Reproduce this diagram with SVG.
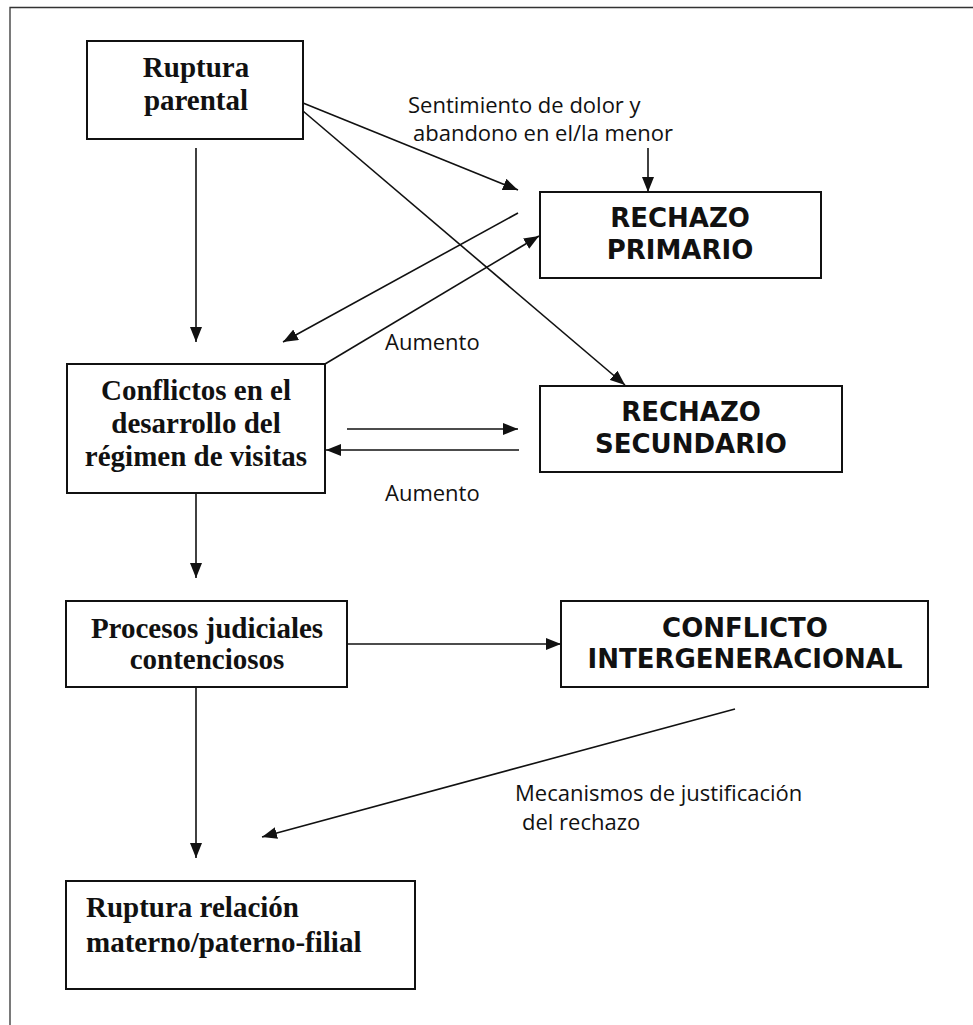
<svg xmlns="http://www.w3.org/2000/svg" width="973" height="1025" viewBox="0 0 973 1025">
<style>
.box{fill:#fff;stroke:#111;stroke-width:2}
.serif{font-family:"Liberation Serif","Times New Roman",serif;font-weight:bold;font-size:29px;fill:#111}
.caps{font-family:"DejaVu Sans",Verdana,sans-serif;font-weight:bold;font-size:26px;fill:#111}
.lbl{font-family:"Open Sans","DejaVu Sans",sans-serif;font-size:22px;fill:#111}
.conn line{stroke:#111;stroke-width:1.6;fill:none}
.arr{marker-end:url(#ah)}
</style>
<defs>
<marker id="ah" markerUnits="userSpaceOnUse" markerWidth="16" markerHeight="12" refX="15" refY="6" orient="auto">
<path d="M0,0 L15,6 L0,12 z" fill="#111"/>
</marker>
</defs>
<rect width="973" height="1025" fill="#fff"/>
<g id="frame" stroke="#333" stroke-width="1.3" fill="none">
<path d="M10,1025 L10,7.5 L973,7.5"/>
</g>
<g id="n-ruptura-parental">
<rect class="box" x="87" y="41" width="216" height="98"/>
<text class="serif" x="196" y="77" text-anchor="middle">Ruptura</text>
<text class="serif" x="196" y="110" text-anchor="middle">parental</text>
</g>
<g id="n-rechazo-primario">
<rect class="box" x="540" y="192" width="281" height="86"/>
<text class="caps" x="680" y="227" text-anchor="middle">RECHAZO</text>
<text class="caps" x="680" y="259" text-anchor="middle">PRIMARIO</text>
</g>
<g id="n-conflictos">
<rect class="box" x="67" y="364" width="258" height="129"/>
<text class="serif" x="196" y="400" text-anchor="middle">Conflictos en el</text>
<text class="serif" x="196" y="433" text-anchor="middle">desarrollo del</text>
<text class="serif" x="196" y="466" text-anchor="middle">régimen de visitas</text>
</g>
<g id="n-rechazo-secundario">
<rect class="box" x="540" y="386" width="302" height="86"/>
<text class="caps" x="691" y="421" text-anchor="middle">RECHAZO</text>
<text class="caps" x="691" y="453" text-anchor="middle">SECUNDARIO</text>
</g>
<g id="n-procesos">
<rect class="box" x="66" y="601" width="281" height="86"/>
<text class="serif" x="207" y="638" text-anchor="middle">Procesos judiciales</text>
<text class="serif" x="207" y="669" text-anchor="middle">contenciosos</text>
</g>
<g id="n-conflicto-intergeneracional">
<rect class="box" x="561" y="601" width="367" height="86"/>
<text class="caps" x="745" y="637" text-anchor="middle">CONFLICTO</text>
<text class="caps" x="745" y="668" text-anchor="middle">INTERGENERACIONAL</text>
</g>
<g id="n-ruptura-relacion">
<rect class="box" x="66" y="881" width="349" height="108"/>
<text class="serif" x="86" y="917">Ruptura relación</text>
<text class="serif" x="86" y="952">materno/paterno-filial</text>
</g>
<g id="labels">
<text class="lbl" x="408" y="113">Sentimiento de dolor y</text>
<text class="lbl" x="413" y="141">abandono en el/la menor</text>
<text class="lbl" x="385" y="350">Aumento</text>
<text class="lbl" x="385" y="501">Aumento</text>
<text class="lbl" x="515" y="801">Mecanismos de justificación</text>
<text class="lbl" x="522" y="830">del rechazo</text>
</g>
<g id="connectors" class="conn">
<line class="arr" x1="196" y1="148" x2="196" y2="342"/>
<line class="arr" x1="303" y1="103" x2="518" y2="190"/>
<line class="arr" x1="303" y1="111" x2="625" y2="385"/>
<line class="arr" x1="648" y1="148" x2="648" y2="192"/>
<line class="arr" x1="518" y1="213" x2="283" y2="342"/>
<line class="arr" x1="325" y1="364" x2="539" y2="236"/>
<line class="arr" x1="347" y1="429" x2="518" y2="429"/>
<line class="arr" x1="519" y1="450" x2="326" y2="450"/>
<line class="arr" x1="196" y1="493" x2="196" y2="578"/>
<line class="arr" x1="347" y1="644" x2="561" y2="644"/>
<line class="arr" x1="196" y1="687" x2="196" y2="858"/>
<line class="arr" x1="735" y1="709" x2="262" y2="837"/>
</g>
</svg>
